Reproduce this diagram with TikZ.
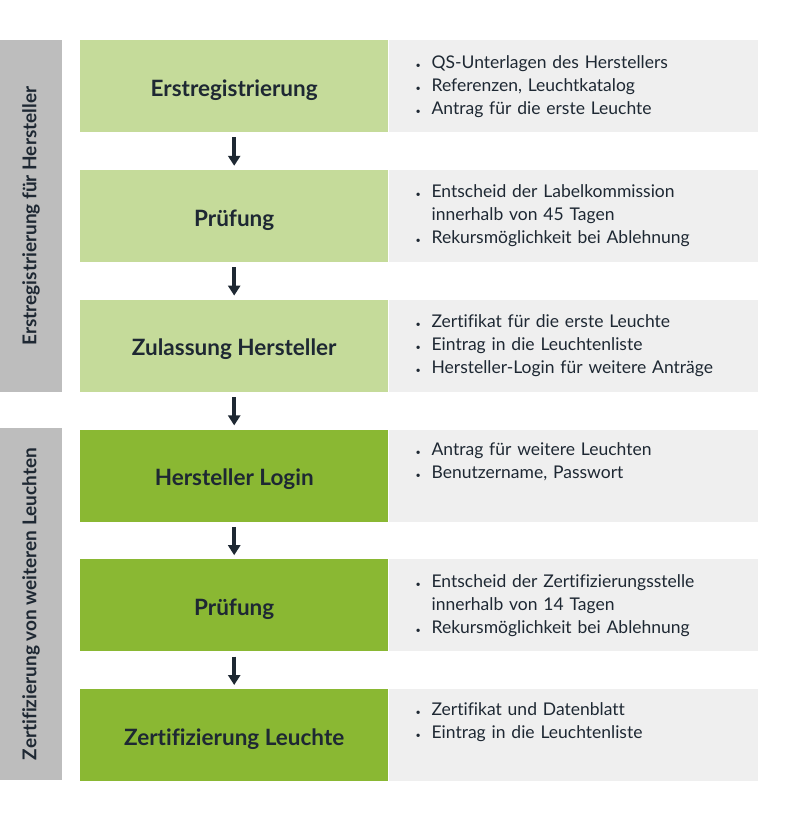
\documentclass[tikz,border=0pt]{standalone}
\usepackage{fontspec}
\setmainfont{Lato}[Ligatures=NoCommon]
\usetikzlibrary{positioning,arrows.meta}
\definecolor{lightgreen}{HTML}{C5DB9A}
\definecolor{darkgreen}{HTML}{8AB833}
\definecolor{sidegray}{HTML}{BDBDBD}
\definecolor{infogray}{HTML}{EFEFEF}
\definecolor{inkblue}{HTML}{1E2833}
\tikzset{
  stepbox/.style={minimum width=308pt,minimum height=92pt,inner sep=0pt,
            text height=20pt,text depth=0pt,
            font=\fontsize{22.5}{26}\selectfont\bfseries,text=inkblue},
  steplight/.style={stepbox,fill=lightgreen},
  stepdark/.style={stepbox,fill=darkgreen},
  infobox/.style={fill=infogray,minimum width=369pt,minimum height=92pt,
            inner xsep=27pt,inner ysep=0pt,text width=315pt,align=left,
            font=\fontsize{17.5}{23}\selectfont,text=inkblue},
  sidebar/.style={fill=sidegray,minimum width=352pt,minimum height=62pt,
            inner sep=0pt,rotate=90,font=\fontsize{19}{22}\selectfont\bfseries,
            text=inkblue},
  flow/.style={-{Triangle[width=12pt,length=10pt]},line width=3.5pt,inkblue,
            shorten <=5pt,shorten >=4pt},
}
\newcommand{\itm}{\makebox[16pt][l]{\small\textbullet}}
\newcommand{\cnt}{\hspace*{16pt}}

\begin{document}
\begin{tikzpicture}[x=1pt,y=-1pt]
  \useasboundingbox (0,0) rectangle (800,825);
  % phase bars
  \node[sidebar] (ph1) at (31,216) {Erstregistrierung für Hersteller};
  \node[sidebar] (ph2) at (31,604) {Zertifizierung von weiteren Leuchten};
  % steps
  \node[steplight,anchor=north west] (s1) at (80,40) {Erstregistrierung};
  \node[steplight,below=37.4pt of s1] (s2) {Prüfung};
  \node[steplight,below=37.4pt of s2] (s3) {Zulassung Hersteller};
  \node[stepdark,below=37.4pt of s3] (s4) {Hersteller Login};
  \node[stepdark,below=37.4pt of s4] (s5) {Prüfung};
  \node[stepdark,below=37.4pt of s5] (s6) {Zertifizierung Leuchte};
  % details
  \node[infobox,right=0pt of s1] (d1)
       {\itm QS-Unterlagen des Herstellers\\
        \itm Referenzen, Leuchtkatalog\\
        \itm Antrag für die erste Leuchte};
  \node[infobox,right=0pt of s2] (d2)
       {\itm Entscheid der Labelkommission\\
        \cnt innerhalb von 45 Tagen\\
        \itm Rekursmöglichkeit bei Ablehnung};
  \node[infobox,right=0pt of s3] (d3)
       {\itm Zertifikat für die erste Leuchte\\
        \itm Eintrag in die Leuchtenliste\\
        \itm Hersteller-Login für weitere Anträge};
  \node[infobox,right=0pt of s4] (d4)
       {\itm Antrag für weitere Leuchten\\
        \itm Benutzername, Passwort\\ \strut};
  \node[infobox,right=0pt of s5] (d5)
       {\itm Entscheid der Zertifizierungsstelle\\
        \cnt innerhalb von 14 Tagen\\
        \itm Rekursmöglichkeit bei Ablehnung};
  \node[infobox,right=0pt of s6] (d6)
       {\itm Zertifikat und Datenblatt\\
        \itm Eintrag in die Leuchtenliste\\ \strut};
  % arrows
  \foreach \a/\b in {s1/s2,s2/s3,s3/s4,s4/s5,s5/s6}
    \draw[flow] (\a.south) -- (\b.north);
\end{tikzpicture}
\end{document}
